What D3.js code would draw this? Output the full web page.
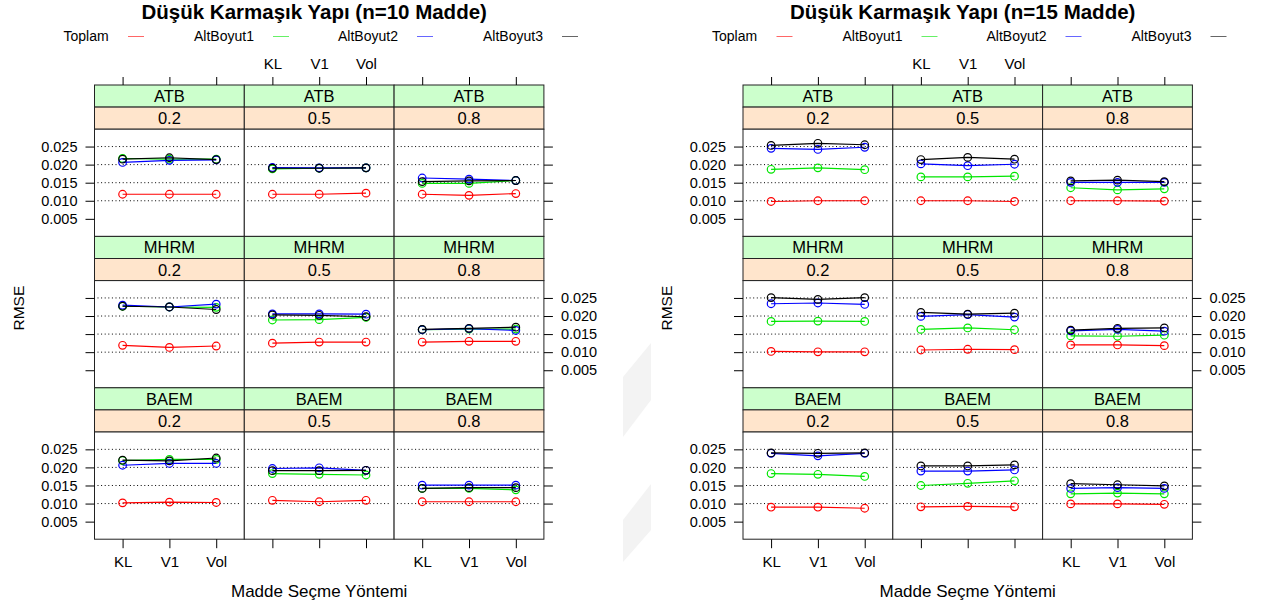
<!DOCTYPE html>
<html><head><meta charset="utf-8">
<script src="https://cdn.jsdelivr.net/npm/d3@7"></script>
<style>html,body{margin:0;padding:0;background:#fff;}svg{display:block;font-family:"Liberation Sans",Arial,sans-serif;}</style>
</head><body>
<svg id="c" width="1264" height="606"></svg>
<script>
const methods = ["KL","V1","Vol"];
const estimators = ["ATB","MHRM","BAEM"];
const levels = ["0.2","0.5","0.8"];
const seriesNames = ["Toplam","AltBoyut1","AltBoyut2","AltBoyut3"];
const seriesColors = ["#ff0000","#00e600","#0000ff","#000000"];
const yTicks = [0.005,0.010,0.015,0.020,0.025];
const gridTicks = [0.010,0.015,0.020,0.025];
const titles = ["Düşük Karmaşık Yapı (n=10 Madde)","Düşük Karmaşık Yapı (n=15 Madde)"];

// values: [estimator][level][method]
const toplam10 = [
 [[0.0118,0.0118,0.0118],[0.0118,0.0118,0.0121],[0.0118,0.0115,0.0120]],
 [[0.0119,0.0113,0.0117],[0.0125,0.0128,0.0128],[0.0128,0.0130,0.0130]],
 [[0.0102,0.0104,0.0103],[0.0109,0.0105,0.0109],[0.0105,0.0105,0.0105]]
];
const altBoyut1_10 = [
 [[0.0217,0.0215,0.0215],[0.0188,0.0190,0.0191],[0.0148,0.0148,0.0156]],
 [[0.0227,0.0225,0.0224],[0.0189,0.0190,0.0196],[0.0162,0.0164,0.0164]],
 [[0.0219,0.0222,0.0222],[0.0183,0.0181,0.0179],[0.0142,0.0142,0.0138]]
];
const altBoyut2_10 = [
 [[0.0206,0.0212,0.0213],[0.0192,0.0191,0.0191],[0.0163,0.0160,0.0156]],
 [[0.0230,0.0225,0.0233],[0.0206,0.0206,0.0205],[0.0162,0.0165,0.0160]],
 [[0.0206,0.0211,0.0211],[0.0197,0.0199,0.0192],[0.0151,0.0151,0.0151]]
];
const altBoyut3_10 = [
 [[0.0215,0.0219,0.0214],[0.0190,0.0190,0.0191],[0.0153,0.0155,0.0156]],
 [[0.0227,0.0225,0.0218],[0.0203,0.0202,0.0198],[0.0163,0.0166,0.0169]],
 [[0.0220,0.0218,0.0226],[0.0191,0.0191,0.0192],[0.0142,0.0144,0.0144]]
];
const toplam15 = [
 [[0.0098,0.0100,0.0100],[0.0100,0.0100,0.0098],[0.0100,0.0100,0.0099]],
 [[0.0102,0.0101,0.0101],[0.0106,0.0108,0.0107],[0.0120,0.0120,0.0118]],
 [[0.0090,0.0090,0.0087],[0.0091,0.0092,0.0091],[0.0099,0.0099,0.0098]]
];
const altBoyut1_15 = [
 [[0.0187,0.0191,0.0186],[0.0166,0.0166,0.0168],[0.0136,0.0130,0.0133]],
 [[0.0185,0.0186,0.0185],[0.0163,0.0167,0.0162],[0.0145,0.0144,0.0147]],
 [[0.0183,0.0181,0.0175],[0.0150,0.0156,0.0163],[0.0127,0.0129,0.0127]]
];
const altBoyut2_15 = [
 [[0.0245,0.0242,0.0248],[0.0202,0.0197,0.0201],[0.0151,0.0151,0.0151]],
 [[0.0234,0.0236,0.0232],[0.0199,0.0204,0.0197],[0.0159,0.0163,0.0158]],
 [[0.0239,0.0232,0.0239],[0.0190,0.0190,0.0193],[0.0142,0.0144,0.0142]]
];
const altBoyut3_15 = [
 [[0.0253,0.0259,0.0255],[0.0214,0.0220,0.0215],[0.0155,0.0157,0.0153]],
 [[0.0251,0.0246,0.0251],[0.0210,0.0205,0.0208],[0.0161,0.0166,0.0167]],
 [[0.0240,0.0239,0.0240],[0.0204,0.0204,0.0207],[0.0155,0.0152,0.0149]]
];

const charts = [
  {title: titles[0], x0: 94.5, series: [toplam10, altBoyut1_10, altBoyut2_10, altBoyut3_10]},
  {title: titles[1], x0: 743, series: [toplam15, altBoyut1_15, altBoyut2_15, altBoyut3_15]}
];

const svg = d3.select("#c");
const PW = 149.8, SH = 22.1, PH = 107.2, TOP = 85, ROW = SH*2 + PH;
const FONT = "'Liberation Sans',Arial,sans-serif";

// faint decorative shapes between charts
svg.append("polygon").attr("points","623,377 651,343 651,400 623,437").attr("fill","#f3f3f3");
svg.append("polygon").attr("points","623,520 651,484 651,530 623,562").attr("fill","#f3f3f3");

const x = d3.scalePoint().domain(methods).range([0, PW]).padding(0.6);
const y = d3.scaleLinear().domain([0.00014, 0.0298]).range([PH, 0]);
const line = d3.line().x((d,i)=>x(methods[i])).y(d=>y(d));

charts.forEach(ch => {
  const g = svg.append("g");
  const cx = ch.x0 + PW*1.5;
  g.append("text").attr("x", cx - 5).attr("y", 19).attr("text-anchor","middle")
    .attr("font-size", 20.5).attr("font-weight","bold").text(ch.title);

  // legend
  const legX = [ -31, 99.5, 243.5, 388.5 ];
  seriesNames.forEach((s,i) => {
    const lx = ch.x0 + legX[i];
    g.append("text").attr("x", lx).attr("y", 41).attr("font-size", 14).text(s);
  });
  const legLine = [33.5, 178.5, 322.5, 467.5];
  seriesNames.forEach((s,i) => {
    const lx = ch.x0 + legLine[i];
    g.append("line").attr("x1", lx).attr("x2", lx+16).attr("y1", 36.5).attr("y2", 36.5)
      .attr("stroke", seriesColors[i]).attr("stroke-opacity", 0.6).attr("stroke-width", 1);
  });

  estimators.forEach((est, r) => {
    levels.forEach((lev, c) => {
      const px = ch.x0 + c*PW, py = TOP + r*ROW;
      // strips
      g.append("rect").attr("x", px).attr("y", py).attr("width", PW).attr("height", SH)
        .attr("fill","#ccffcc").attr("stroke","#222").attr("stroke-width",1);
      g.append("text").attr("x", px+PW/2).attr("y", py+SH/2+6).attr("text-anchor","middle")
        .attr("font-size", 16.5).text(est);
      g.append("rect").attr("x", px).attr("y", py+SH).attr("width", PW).attr("height", SH)
        .attr("fill","#ffe5cc").attr("stroke","#222").attr("stroke-width",1);
      g.append("text").attr("x", px+PW/2).attr("y", py+SH*1.5+6).attr("text-anchor","middle")
        .attr("font-size", 16.5).text(lev);

      const pg = g.append("g").attr("transform", `translate(${px},${py+2*SH})`);
      pg.append("rect").attr("width", PW).attr("height", PH).attr("fill","#fff")
        .attr("stroke","#222").attr("stroke-width",1);
      // grid
      pg.selectAll("line.grid").data(gridTicks).enter().append("line")
        .attr("x1", 3).attr("x2", PW-3).attr("y1", d=>y(d)).attr("y2", d=>y(d))
        .attr("stroke","#000").attr("stroke-width",1).attr("stroke-dasharray","1,2.6");
      // series
      ch.series.forEach((ser, si) => {
        const vals = ser[r][c];
        pg.append("path").attr("d", line(vals)).attr("fill","none")
          .attr("stroke", seriesColors[si]).attr("stroke-width", 1.2);
        pg.selectAll(null).data(vals).enter().append("circle")
          .attr("cx", (d,i)=>x(methods[i])).attr("cy", d=>y(d)).attr("r", 3.8)
          .attr("fill","none").attr("stroke", seriesColors[si]).attr("stroke-width", 1.2);
      });

      // y axes on outer columns
      if (c === 0) {
        const ax = d3.axisLeft(y).tickValues(yTicks).tickSize(9).tickPadding(8)
          .tickFormat(r === 1 ? "" : d3.format(".3f"));
        const a = pg.append("g").call(ax);
        a.select(".domain").remove();
        a.selectAll("text").attr("font-size", 14.5).attr("font-family", FONT).attr("fill","#000");
      }
      if (c === 2) {
        const ax = d3.axisRight(y).tickValues(yTicks).tickSize(9).tickPadding(8)
          .tickFormat(r === 1 ? d3.format(".3f") : "");
        const a = pg.append("g").attr("transform", `translate(${PW},0)`).call(ax);
        a.select(".domain").remove();
        a.selectAll("text").attr("font-size", 14.5).attr("font-family", FONT).attr("fill","#000");
      }
      // top axis
      if (r === 0) {
        const ax = d3.axisTop(x).tickSize(8).tickPadding(8).tickFormat(c === 1 ? null : "");
        const a = g.append("g").attr("transform", `translate(${px},${py})`).call(ax);
        a.select(".domain").remove();
        a.selectAll("text").attr("font-size", 15).attr("font-family", FONT).attr("fill","#000");
      }
      // bottom axis
      if (r === 2) {
        const ax = d3.axisBottom(x).tickSize(9).tickPadding(8).tickFormat(c === 1 ? "" : null);
        const a = pg.append("g").attr("transform", `translate(0,${PH})`).call(ax);
        a.select(".domain").remove();
        a.selectAll("text").attr("font-size", 15).attr("font-family", FONT).attr("fill","#000");
      }
    });
  });

  // axis titles
  g.append("text").attr("x", ch.x0 + PW*1.5).attr("y", 597).attr("text-anchor","middle")
    .attr("font-size", 17).text("Madde Seçme Yöntemi");
  g.append("text").attr("transform", `translate(${ch.x0 - 71},${TOP + ROW*1.5 - 4}) rotate(-90)`)
    .attr("text-anchor","middle").attr("font-size", 15.5).text("RMSE");
});
</script>
</body></html>
